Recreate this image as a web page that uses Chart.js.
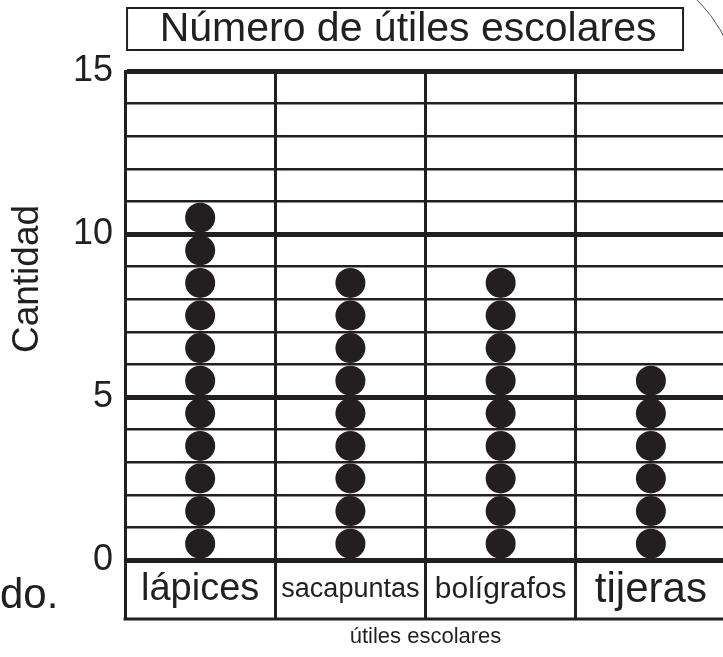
<!DOCTYPE html>
<html><head><meta charset="utf-8">
<script src="https://cdn.jsdelivr.net/npm/chart.js@4.4.1/dist/chart.umd.min.js"></script>
<style>
html,body{margin:0;padding:0;background:#fff;overflow:hidden;}
#wrap{position:relative;width:723px;height:657px;overflow:hidden;background:#fff;}
canvas{position:absolute;left:0;top:0;}
#frag{position:absolute;left:0;top:573px;font:42px 'Liberation Sans',Arial,sans-serif;color:#231f20;line-height:1;}
</style></head><body>
<div id="wrap"><canvas id="c" width="745" height="657"></canvas><div id="frag">do.</div></div>
<script>
const categories = ['lápices', 'sacapuntas', 'bolígrafos', 'tijeras'];
const counts = [11, 9, 9, 6];
const yTickLabels = [0, 5, 10, 15];
const chartTitle = 'Número de útiles escolares';
const xAxisTitle = 'útiles escolares';
const yAxisTitle = 'Cantidad';

const INK = '#231f20';
const SANS = "'Liberation Sans', Arial, sans-serif";
const labelFonts = [
  {family: SANS, size: 38, lineHeight: '50.4px'},
  {family: SANS, size: 27, lineHeight: '50.4px'},
  {family: SANS, size: 30, lineHeight: '50.4px'},
  {family: SANS, size: 42, lineHeight: '50.4px'}
];

const points = [];
categories.forEach((c, i) => {
  for (let k = 0; k < counts[i]; k++) points.push({x: c, y: k + 0.5});
});

const deco = {
  id: 'deco',
  afterDraw(chart) {
    const ctx = chart.ctx;
    const a = chart.chartArea;
    const xs = chart.scales.x;
    ctx.save();
    ctx.strokeStyle = INK;
    ctx.fillStyle = INK;
    // bottom edge of label boxes
    const yb = xs.top + xs.options.grid.tickLength;
    ctx.lineWidth = 3;
    ctx.beginPath();
    ctx.moveTo(a.left - 1.5, yb);
    ctx.lineTo(a.right + 2, yb);
    ctx.stroke();
    // title box
    const bl = a.left + 2, bw = 556, bt = 8, bh = 42;
    ctx.lineWidth = 2;
    ctx.strokeRect(bl, bt, bw, bh);
    ctx.font = '41px ' + SANS;
    ctx.textAlign = 'center';
    ctx.textBaseline = 'middle';
    ctx.fillText(chartTitle, bl + bw / 2 + 3, bt + bh / 2 + 1);
    // y axis title
    ctx.save();
    ctx.translate(28, 279);
    ctx.rotate(-Math.PI / 2);
    ctx.font = '37px ' + SANS;
    ctx.fillText(yAxisTitle, 0, 0);
    ctx.restore();
    // page edge arc
    ctx.lineWidth = 1;
    ctx.strokeStyle = '#555';
    ctx.beginPath();
    ctx.arc(591, 106, 150, -0.87, -0.42);
    ctx.stroke();
    ctx.restore();
  }
};

new Chart(document.getElementById('c'), {
  type: 'line',
  data: {
    labels: categories,
    datasets: [{
      data: points,
      showLine: false,
      pointRadius: 15,
      pointHoverRadius: 15,
      pointBorderWidth: 0,
      pointBackgroundColor: INK,
      pointBorderColor: INK
    }]
  },
  options: {
    responsive: false,
    animation: false,
    events: [],
    layout: {padding: {left: 61, right: 19, top: 71, bottom: 6.8}},
    plugins: {legend: {display: false}, tooltip: {enabled: false}, title: {display: false}},
    scales: {
      x: {
        type: 'category',
        labels: categories,
        offset: true,
        grid: {offset: true, color: INK, lineWidth: 3, tickLength: 59, drawTicks: true},
        border: {display: false},
        ticks: {padding: -54.2, color: INK, autoSkip: false, maxRotation: 0, font: (c) => labelFonts[c.index] || labelFonts[0]},
        title: {display: true, text: xAxisTitle, color: INK, font: {family: SANS, size: 22}, padding: {top: 62.8, bottom: 0}}
      },
      y: {
        min: 0, max: 15,
        ticks: {stepSize: 1, autoSkip: false, padding: 12, color: INK, font: {family: SANS, size: 36},
          callback: (v) => yTickLabels.includes(v) ? String(v) : ''},
        grid: {color: INK, drawTicks: false,
          lineWidth: (c) => (c.tick && yTickLabels.includes(c.tick.value)) ? 5 : 2.5},
        border: {display: true, color: INK, width: 3}
      }
    }
  },
  plugins: [deco]
});
</script>
</body></html>
